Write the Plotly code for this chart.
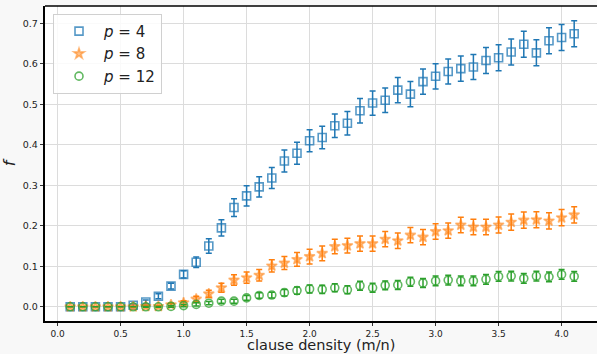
import plotly.graph_objects as go

density = [round(0.1 * i, 1) for i in range(1, 42)]

f_p4 = [0, 0, 0, 0, 0, 0.004, 0.012, 0.026, 0.051, 0.080,
        0.110, 0.150, 0.195, 0.245, 0.274, 0.296, 0.318, 0.360, 0.379, 0.410,
        0.418, 0.447, 0.453, 0.484, 0.503, 0.510, 0.535, 0.525, 0.556, 0.569,
        0.581, 0.588, 0.592, 0.608, 0.615, 0.629, 0.648, 0.627, 0.657, 0.665,
        0.674]
err_p4 = [0, 0, 0, 0, 0, 0.003, 0.005, 0.006, 0.007, 0.009,
          0.013, 0.018, 0.020, 0.022, 0.025, 0.025, 0.026, 0.027, 0.027, 0.027,
          0.028, 0.029, 0.029, 0.030, 0.030, 0.030, 0.031, 0.031, 0.031, 0.031,
          0.031, 0.031, 0.031, 0.032, 0.032, 0.032, 0.032, 0.032, 0.032, 0.032,
          0.032]

f_p8 = [0, 0, 0, 0, 0, 0.0, 0.001, 0.001, 0.005, 0.010,
        0.019, 0.032, 0.047, 0.066, 0.072, 0.078, 0.101, 0.108, 0.117, 0.124,
        0.132, 0.149, 0.151, 0.156, 0.156, 0.167, 0.163, 0.177, 0.172, 0.186,
        0.188, 0.202, 0.197, 0.197, 0.202, 0.209, 0.214, 0.215, 0.212, 0.220,
        0.227]
err_p8 = [0, 0, 0, 0, 0, 0.001, 0.002, 0.002, 0.004, 0.005,
          0.007, 0.009, 0.011, 0.013, 0.014, 0.014, 0.015, 0.016, 0.017, 0.018,
          0.018, 0.018, 0.018, 0.019, 0.019, 0.019, 0.019, 0.019, 0.019, 0.019,
          0.019, 0.019, 0.019, 0.019, 0.020, 0.020, 0.020, 0.020, 0.020, 0.020,
          0.020]

f_p12 = [0, 0, 0, 0, 0, 0.0, 0.0, 0.0, 0.001, 0.003,
         0.006, 0.009, 0.014, 0.014, 0.022, 0.028, 0.029, 0.035, 0.040, 0.044,
         0.043, 0.047, 0.042, 0.052, 0.047, 0.053, 0.054, 0.062, 0.059, 0.064,
         0.066, 0.064, 0.064, 0.068, 0.075, 0.076, 0.070, 0.076, 0.074, 0.080,
         0.075]
err_p12 = [0, 0, 0, 0, 0, 0.0, 0.001, 0.001, 0.002, 0.003,
           0.004, 0.004, 0.005, 0.005, 0.006, 0.007, 0.007, 0.008, 0.009, 0.010,
           0.010, 0.010, 0.010, 0.011, 0.011, 0.011, 0.011, 0.011, 0.011, 0.012,
           0.012, 0.012, 0.012, 0.012, 0.012, 0.012, 0.012, 0.012, 0.012, 0.012,
           0.012]

series = [
    ("<i>p</i> = 4", f_p4, err_p4, "#1f77b4", "square-open", "rgba(31,119,180,0.75)", 8),
    ("<i>p</i> = 8", f_p8, err_p8, "#ff7f0e", "star", "rgba(255,127,14,0.5)", 8),
    ("<i>p</i> = 12", f_p12, err_p12, "#2ca02c", "circle-open", "rgba(44,160,44,0.75)", 8),
]

fig = go.Figure()
for name, ys, es, col, sym, mcol, sz in series:
    fig.add_trace(go.Scatter(
        x=density, y=ys, mode="markers", name=name,
        marker=dict(symbol=sym, size=sz, color=mcol,
                    line=dict(color=mcol, width=1.6)),
        error_y=dict(type="data", array=es, visible=True, color=col,
                     thickness=1.5, width=3),
    ))

fig.update_layout(
    width=597, height=354,
    margin=dict(l=45, r=0, t=6, b=33),
    paper_bgcolor="#f8f8f8",
    plot_bgcolor="white",
    font=dict(family="DejaVu Sans", color="#222"),
    showlegend=True,
    legend=dict(x=0.0145, y=0.975, xanchor="left", yanchor="top",
                bgcolor="rgba(255,255,255,0.85)", bordercolor="#d0d0d0",
                borderwidth=1, font=dict(size=15, family="DejaVu Sans"),
                itemwidth=40, tracegroupgap=0),
    annotations=[dict(text="clause density (m/n)", xref="paper", yref="paper",
                      x=0.5, y=-0.076, xanchor="center", yanchor="middle",
                      showarrow=False, font=dict(size=14.5, color="#222"))],
    shapes=[dict(type="line", xref="paper", yref="paper", x0=0, x1=1, y0=1, y1=1,
                 line=dict(color="black", width=1.5))],
)
fig.update_xaxes(
    range=[-0.1, 4.281], tickvals=[0, 0.5, 1, 1.5, 2, 2.5, 3, 3.5, 4],
    ticktext=["0.0", "0.5", "1.0", "1.5", "2.0", "2.5", "3.0", "3.5", "4.0"],
    showgrid=True, gridcolor="#dcdcdc", gridwidth=1.2, zeroline=False,
    showline=True, linecolor="black", linewidth=1.5, mirror=False,
    ticks="outside", ticklen=3, tickcolor="#333", tickfont=dict(size=9),
)
fig.update_yaxes(
    range=[-0.035, 0.7426], tickvals=[0, 0.1, 0.2, 0.3, 0.4, 0.5, 0.6, 0.7],
    ticktext=["0.0", "0.1", "0.2", "0.3", "0.4", "0.5", "0.6", "0.7"],
    showgrid=True, gridcolor="#dcdcdc", gridwidth=1.2, zeroline=False,
    showline=True, linecolor="black", linewidth=1.5, mirror=False,
    ticks="outside", ticklen=3.5, tickcolor="#333", tickfont=dict(size=9.5),
    title=dict(text="<i>f</i>", font=dict(size=16), standoff=6),
)

fig.write_html("out.html")
